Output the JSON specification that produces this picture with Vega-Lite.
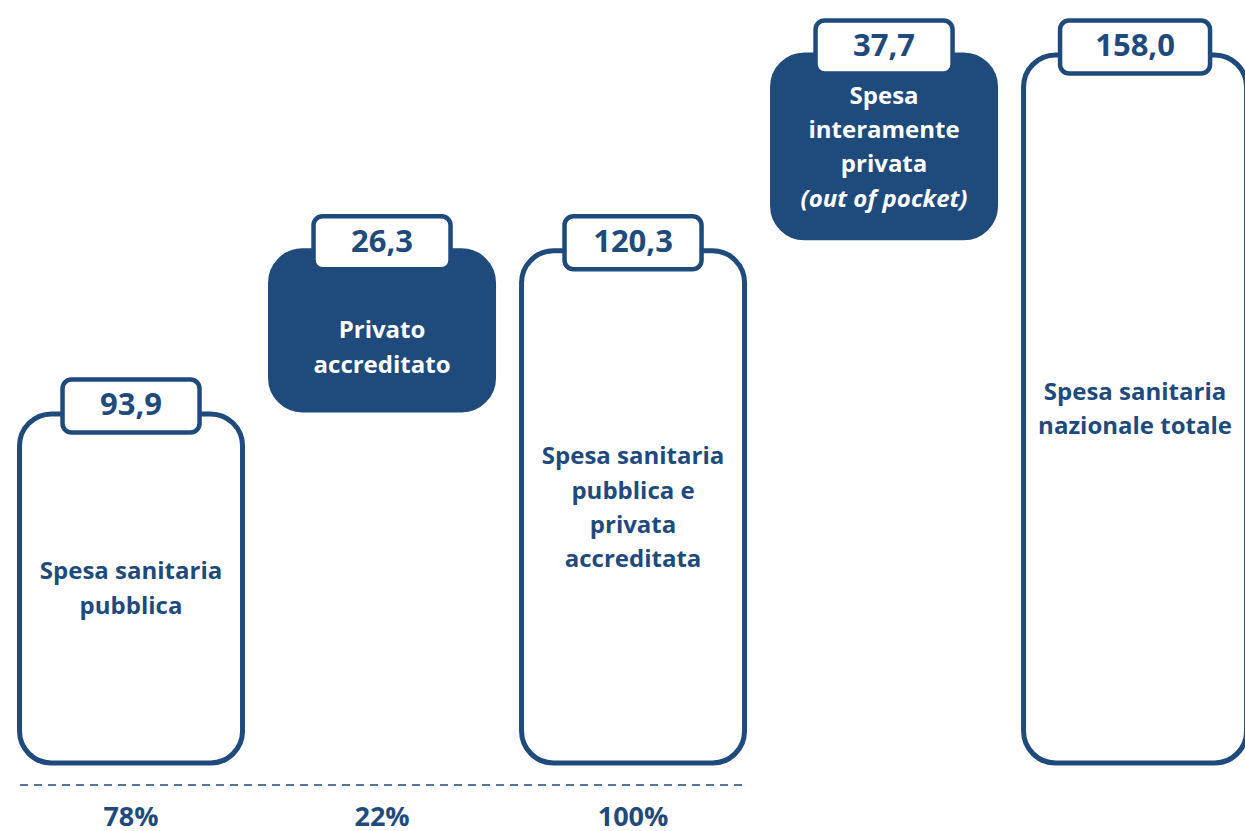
{
  "$schema": "https://vega.github.io/schema/vega-lite/v6.json",
  "width": 1245,
  "height": 831,
  "autosize": {"type": "none"},
  "padding": 0,
  "background": "white",
  "config": {
    "view": {"stroke": null},
    "scale": {"continuousPadding": 0},
    "locale": {"number": {"decimal": ",", "thousands": ".", "grouping": [3], "currency": ["€", ""]}}
  },
  "data": {
    "values": [
      {"idx": 0, "type": "light", "value": 93.9, "start": 0, "end": 77.9, "label": "Spesa sanitaria\npubblica", "pct": 0.78},
      {"idx": 1, "type": "dark", "value": 26.3, "start": 78.8, "end": 114.3, "label": "Privato\naccreditato", "pct": 0.22},
      {"idx": 2, "type": "light", "value": 120.3, "start": 0, "end": 114.3, "label": "Spesa sanitaria\npubblica e\nprivata\naccreditata", "pct": 1.0},
      {"idx": 3, "type": "dark", "value": 37.7, "start": 117.2, "end": 158, "label": "Spesa\ninteramente\nprivata", "italic": "(out of pocket)"},
      {"idx": 4, "type": "light", "value": 158.0, "start": 0, "end": 158, "label": "Spesa sanitaria\nnazionale totale"}
    ]
  },
  "encoding": {
    "x": {"field": "idx", "type": "quantitative", "scale": {"domain": [-0.522, 4.438], "nice": false, "zero": false, "padding": 0}, "axis": null}
  },
  "layer": [
    {
      "mark": {"type": "bar", "width": 223, "cornerRadius": 32, "stroke": "#1F4A7C", "strokeWidth": 5},
      "encoding": {
        "y": {"field": "start", "type": "quantitative", "scale": {"domain": [-15.17, 170.27], "nice": false, "zero": false, "padding": 0}, "axis": null},
        "y2": {"field": "end"},
        "fill": {"condition": {"test": "datum.type === 'dark'", "value": "#1F4A7C"}, "value": "white"}
      }
    },
    {
      "mark": {"type": "bar", "cornerRadius": 9, "fill": "white", "stroke": "#1F4A7C", "strokeWidth": 4.5, "yOffset": -34.5, "y2Offset": 18.5},
      "encoding": {
        "y": {"field": "end", "type": "quantitative", "scale": {"domain": [-15.17, 170.27], "nice": false, "zero": false, "padding": 0}, "axis": null},
        "y2": {"field": "end"},
        "size": {"field": "value", "type": "quantitative", "scale": {"type": "threshold", "domain": [150], "range": [137, 150]}, "legend": null}
      }
    },
    {
      "mark": {"type": "text", "font": "Open Sans", "fontWeight": "bold", "fontSize": 31, "color": "#1F4A7C", "baseline": "middle", "yOffset": -8},
      "encoding": {
        "y": {"field": "end", "type": "quantitative", "scale": {"domain": [-15.17, 170.27], "nice": false, "zero": false, "padding": 0}, "axis": null},
        "text": {"field": "value", "type": "quantitative", "format": ".1f"}
      }
    },
    {
      "transform": [
        {"filter": "datum.type === 'light' && split(datum.label, '\\n').length == 2"},
        {"fold": ["start", "end"], "as": ["k", "v"]},
        {"aggregate": [{"op": "mean", "field": "v", "as": "mid"}], "groupby": ["idx", "label"]}
      ],
      "mark": {"type": "text", "font": "Open Sans", "fontWeight": "bold", "fontSize": 24, "lineHeight": 34.3, "lineBreak": "\n", "baseline": "middle", "dy": -16, "color": "#1F4A7C"},
      "encoding": {
        "y": {"field": "mid", "type": "quantitative", "scale": {"domain": [-15.17, 170.27], "nice": false, "zero": false, "padding": 0}, "axis": null},
        "text": {"field": "label"}
      }
    },
    {
      "transform": [
        {"filter": "datum.type === 'dark' && split(datum.label, '\\n').length == 2"},
        {"fold": ["start", "end"], "as": ["k", "v"]},
        {"aggregate": [{"op": "mean", "field": "v", "as": "mid"}], "groupby": ["idx", "label"]}
      ],
      "mark": {"type": "text", "font": "Open Sans", "fontWeight": "bold", "fontSize": 24, "lineHeight": 34.3, "lineBreak": "\n", "baseline": "middle", "dy": 1, "color": "white"},
      "encoding": {
        "y": {"field": "mid", "type": "quantitative", "scale": {"domain": [-15.17, 170.27], "nice": false, "zero": false, "padding": 0}, "axis": null},
        "text": {"field": "label"}
      }
    },
    {
      "transform": [
        {"filter": "split(datum.label, '\\n').length >= 3"},
        {"fold": ["start", "end"], "as": ["k", "v"]},
        {"aggregate": [{"op": "mean", "field": "v", "as": "mid"}], "groupby": ["idx", "type", "label"]}
      ],
      "mark": {"type": "text", "font": "Open Sans", "fontWeight": "bold", "fontSize": 24, "lineHeight": 34.3, "lineBreak": "\n", "baseline": "middle", "dy": -49.5},
      "encoding": {
        "y": {"field": "mid", "type": "quantitative", "scale": {"domain": [-15.17, 170.27], "nice": false, "zero": false, "padding": 0}, "axis": null},
        "text": {"field": "label"},
        "color": {"condition": {"test": "datum.type === 'dark'", "value": "white"}, "value": "#1F4A7C"}
      }
    },
    {
      "transform": [
        {"filter": "datum.italic != null"},
        {"fold": ["start", "end"], "as": ["k", "v"]},
        {"aggregate": [{"op": "mean", "field": "v", "as": "mid"}], "groupby": ["idx", "italic"]}
      ],
      "mark": {"type": "text", "font": "Open Sans", "fontWeight": "bold", "fontStyle": "italic", "fontSize": 24, "baseline": "middle", "dy": 53.4, "color": "white"},
      "encoding": {
        "y": {"field": "mid", "type": "quantitative", "scale": {"domain": [-15.17, 170.27], "nice": false, "zero": false, "padding": 0}, "axis": null},
        "text": {"field": "italic"}
      }
    },
    {
      "transform": [{"filter": "datum.pct != null"}],
      "mark": {"type": "rule", "color": "#1F4A7C", "strokeWidth": 1.5, "strokeDash": [8, 6], "xOffset": -111, "x2Offset": 112},
      "encoding": {
        "x": {"field": "idx", "aggregate": "min", "type": "quantitative"},
        "x2": {"field": "idx", "aggregate": "max"},
        "y": {"datum": -4.9, "type": "quantitative"}
      }
    },
    {
      "transform": [{"filter": "datum.pct != null"}],
      "mark": {"type": "text", "font": "Open Sans", "fontWeight": "bold", "fontSize": 27, "color": "#1F4A7C", "baseline": "alphabetic"},
      "encoding": {
        "y": {"datum": -14.1, "type": "quantitative"},
        "text": {"field": "pct", "type": "quantitative", "format": ".0%"}
      }
    }
  ]
}
